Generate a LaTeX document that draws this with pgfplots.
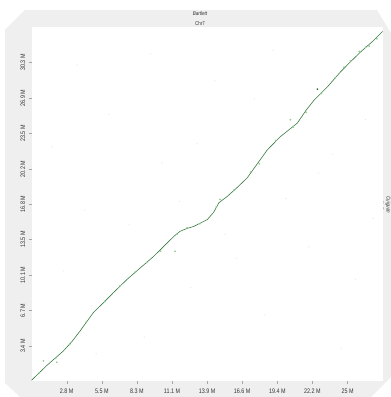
\documentclass[border=0pt]{standalone}
\usepackage{fontspec}
\setmainfont{Liberation Sans}[FakeStretch=0.82]
\usepackage{pgfplots}
\pgfplotsset{compat=1.18}
\definecolor{bggray}{HTML}{EFEFEF}
\definecolor{dgreen}{HTML}{3A7A42}
\definecolor{lgreen}{HTML}{8CCB8C}
\definecolor{noise}{HTML}{EDE4D0}
\definecolor{txt}{HTML}{333333}
\begin{document}
\begin{tikzpicture}[x=1pt,y=1pt]
\useasboundingbox (0,0) rectangle (391,397);
\fill[bggray] (5,367) -- (25,387) -- (377,387) -- (391,364) -- (391,20) -- (371,0) -- (20,0) -- (5,14) -- cycle;
\node[font=\fontsize{5.5}{6}\selectfont\itshape, text=txt] at (200,383) {Bartlett};
\node[font=\fontsize{5.5}{6}\selectfont, text=txt] at (200,373.5) {Chr7};
\node[font=\fontsize{5.5}{6}\selectfont, text=txt, rotate=-90] at (381.5,192) {Chr7};
\node[font=\fontsize{5.5}{6}\selectfont\itshape, text=txt, rotate=-90] at (388,192) {Cuiguan};
\begin{axis}[
  at={(25,15)}, anchor=south west,
  scale only axis, width=351pt, height=354pt,
  xmin=0, xmax=27.75, ymin=0, ymax=33.7,
  axis background/.style={fill=white},
  axis line style={draw=none},
  tick align=outside, major tick length=3pt,
  tick style={draw=gray!70, line width=0.4pt},
  xtick pos=bottom, ytick pos=left,
  xtick={2.775,5.55,8.325,11.1,13.875,16.65,19.425,22.2,24.975},
  xticklabels={2.8 M,5.5 M,8.3 M,11.1 M,13.9 M,16.6 M,19.4 M,22.2 M,25 M},
  ytick={3.37,6.74,10.11,13.48,16.85,20.22,23.59,26.96,30.33},
  yticklabels={3.4 M,6.7 M,10.1 M,13.5 M,16.8 M,20.2 M,23.5 M,26.9 M,30.3 M},
  ticklabel style={font=\fontsize{6.6}{7.5}\selectfont, text=txt},
  yticklabel style={rotate=90, anchor=south},
  xticklabel style={yshift=-1pt},
  clip=false,
]
% faint background noise
\addplot[only marks, mark=*, mark size=0.4pt, color=noise, opacity=0.6] coordinates {
(2.5,10.5) (4.2,16.3) (6.1,25.4) (8.9,4.2) (10.3,20.8) (12.6,8.9) (14.5,28.6)
(16.2,11.7) (18.4,6.3) (20.1,17.4) (21.9,12.8) (23.8,21.6) (25.6,9.7) (26.4,24.9)
(3.6,30.1) (9.4,31.2) (13.1,22.6) (17.6,26.9) (7.7,14.9) (11.7,17.1) (15.3,14.0)
(19.1,31.5) (24.5,3.1) (1.6,22.3) (22.7,19.8) (5.1,2.6) (27.0,15.5)
};
% lighter alignment dots along the line
\addplot[only marks, mark=*, mark size=0.7pt, color=lgreen, opacity=0.8] coordinates {
(0.6,0.8) (1.9,2.2) (3.0,3.5) (4.3,5.6) (5.8,7.6) (7.0,9.1) (8.2,10.4) (9.1,11.3)
(10.2,12.4) (11.5,14.0) (12.3,14.6) (13.3,15.0) (14.6,16.6) (14.9,17.3) (16.0,18.2)
(17.3,19.9) (18.0,20.7) (19.3,22.9) (20.46,24.9) (20.7,24.2) (21.7,25.6) (22.9,27.4)
(24.0,28.9) (24.7,29.9) (25.2,30.5) (25.9,31.4) (26.7,31.9) (27.3,32.6)
};
% main alignment line
\addplot[dgreen, line width=0.6pt] coordinates {
(0,0.1) (1.2,1.5) (2.51,2.88) (3.2,3.8) (3.81,4.75) (4.89,6.55) (5.7,7.5)
(6.48,8.45) (7.53,9.68) (8.6,10.8) (9.65,11.89) (10.5,12.9) (11.24,13.79)
(11.73,14.27) (12.3,14.55) (12.82,14.74) (13.88,15.38) (14.4,16.1) (14.80,16.99)
(15.46,17.59) (16.3,18.5) (17.05,19.37) (17.9,20.8) (18.63,22.02) (19.66,23.28)
(21.01,24.58) (21.7,25.8) (22.34,26.77) (23.39,28.03) (24.42,29.45) (25.2,30.4)
(26.01,31.35) (27.0,32.4) (27.75,33.3)
};
% off-line hits
\addplot[only marks, mark=*, mark size=0.7pt, color=dgreen] coordinates {
(22.6,27.8)
};
\addplot[only marks, mark=*, mark size=0.6pt, color=lgreen] coordinates {
(11.34,12.38) (0.93,1.93) (1.98,1.81) (26.4,31.8)
};
\end{axis}
\end{tikzpicture}
\end{document}
